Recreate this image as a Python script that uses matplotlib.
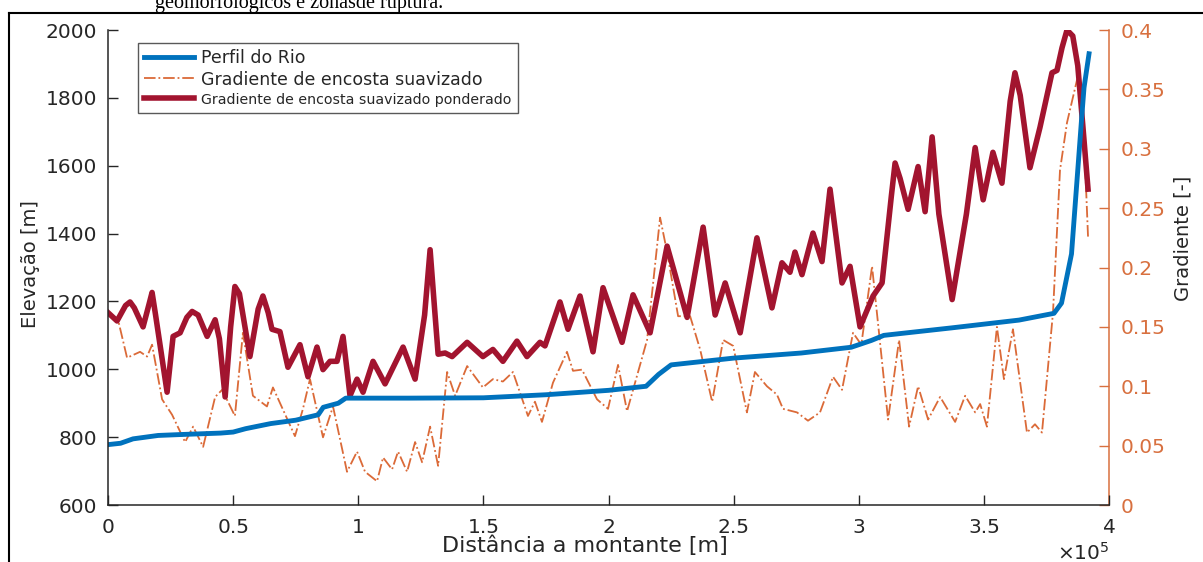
import numpy as np
import matplotlib
matplotlib.use('Agg')
import matplotlib.pyplot as plt
from matplotlib.lines import Line2D
from matplotlib.ticker import FormatStrFormatter

# Perfil do rio (distancia em unidades de 1e5 m, elevacao em m)
dist_rio = [0, 0.05, 0.1, 0.2, 0.3, 0.45, 0.5, 0.55, 0.65, 0.75, 0.84, 0.86, 0.92, 0.95,
            1.2, 1.5, 1.75, 2.0, 2.15, 2.2, 2.25, 2.5, 2.77, 2.97, 3.05, 3.1, 3.37, 3.64,
            3.78, 3.81, 3.85, 3.89, 3.90, 3.92]
elev_rio = [778, 782, 795, 805, 808, 812, 815, 825, 840, 850, 866, 888, 900, 915,
            915, 916, 925, 938, 950, 985, 1013, 1033, 1048, 1065, 1085, 1100, 1122, 1145,
            1165, 1195, 1340, 1735, 1830, 1930]

# Gradiente de encosta suavizado (eixo direito)
dist_grad = [0, 0.040, 0.076, 0.128, 0.156, 0.176, 0.216, 0.256, 0.308, 0.340, 0.380,
             0.428, 0.456, 0.507, 0.539, 0.579, 0.635, 0.659, 0.747, 0.779, 0.807, 0.859,
             0.899, 0.955, 0.995, 1.027, 1.075, 1.099, 1.135, 1.159, 1.195, 1.227, 1.255,
             1.287, 1.319, 1.355, 1.387, 1.435, 1.498, 1.538, 1.578, 1.618, 1.678, 1.706,
             1.734, 1.778, 1.834, 1.858, 1.894, 1.954, 1.998, 2.038, 2.074, 2.154, 2.206,
             2.234, 2.278, 2.326, 2.366, 2.414, 2.458, 2.498, 2.553, 2.585, 2.633, 2.673,
             2.697, 2.753, 2.797, 2.845, 2.897, 2.933, 2.977, 3.010, 3.053, 3.117, 3.161,
             3.201, 3.237, 3.277, 3.325, 3.385, 3.425, 3.465, 3.485, 3.512, 3.552, 3.580,
             3.616, 3.672, 3.704, 3.732, 3.776, 3.804, 3.832, 3.872, 3.896, 3.916]
grad_suav = [0.160, 0.156, 0.124, 0.129, 0.125, 0.135, 0.089, 0.076, 0.053, 0.066, 0.049,
             0.091, 0.097, 0.075, 0.145, 0.092, 0.083, 0.099, 0.058, 0.081, 0.106, 0.057,
             0.083, 0.028, 0.045, 0.028, 0.020, 0.040, 0.030, 0.045, 0.028, 0.053, 0.036,
             0.066, 0.033, 0.112, 0.092, 0.117, 0.099, 0.106, 0.104, 0.112, 0.075, 0.087,
             0.070, 0.103, 0.129, 0.113, 0.114, 0.089, 0.081, 0.118, 0.079, 0.139, 0.242,
             0.213, 0.159, 0.159, 0.131, 0.087, 0.139, 0.134, 0.078, 0.112, 0.100, 0.093,
             0.081, 0.078, 0.071, 0.078, 0.108, 0.097, 0.145, 0.135, 0.201, 0.072, 0.139,
             0.066, 0.100, 0.072, 0.091, 0.070, 0.092, 0.078, 0.085, 0.066, 0.150, 0.106,
             0.148, 0.061, 0.068, 0.061, 0.162, 0.282, 0.322, 0.358, 0.330, 0.226]

# Gradiente de encosta suavizado ponderado (eixo direito)
dist_pond = [0, 0.036, 0.070, 0.088, 0.105, 0.140, 0.165, 0.176, 0.190, 0.236, 0.260,
             0.288, 0.315, 0.336, 0.360, 0.396, 0.428, 0.445, 0.468, 0.490, 0.507, 0.525,
             0.567, 0.600, 0.619, 0.640, 0.655, 0.687, 0.719, 0.767, 0.799, 0.835, 0.859,
             0.887, 0.915, 0.939, 0.967, 0.995, 1.019, 1.059, 1.107, 1.179, 1.227, 1.265,
             1.287, 1.305, 1.319, 1.347, 1.375, 1.435, 1.498, 1.538, 1.578, 1.634, 1.674,
             1.726, 1.746, 1.806, 1.838, 1.886, 1.938, 1.978, 2.054, 2.098, 2.166, 2.234,
             2.314, 2.378, 2.426, 2.466, 2.526, 2.593, 2.653, 2.693, 2.725, 2.745, 2.773,
             2.817, 2.853, 2.885, 2.933, 2.965, 3.005, 3.057, 3.093, 3.130, 3.145, 3.165,
             3.197, 3.237, 3.265, 3.293, 3.320, 3.373, 3.430, 3.465, 3.497, 3.536, 3.572,
             3.605, 3.624, 3.645, 3.684, 3.724, 3.772, 3.792, 3.812, 3.832, 3.855, 3.875,
             3.895, 3.916]
grad_pond = [0.162, 0.155, 0.168, 0.171, 0.166, 0.150, 0.170, 0.179, 0.160, 0.095, 0.142,
             0.145, 0.158, 0.163, 0.160, 0.142, 0.156, 0.140, 0.091, 0.150, 0.184, 0.178,
             0.125, 0.165, 0.176, 0.162, 0.148, 0.146, 0.116, 0.135, 0.108, 0.133, 0.114,
             0.121, 0.121, 0.142, 0.092, 0.106, 0.095, 0.121, 0.102, 0.133, 0.106, 0.160,
             0.215, 0.165, 0.127, 0.128, 0.125, 0.137, 0.125, 0.131, 0.121, 0.138, 0.125,
             0.137, 0.134, 0.171, 0.148, 0.176, 0.129, 0.183, 0.137, 0.177, 0.145, 0.218,
             0.158, 0.234, 0.160, 0.187, 0.145, 0.225, 0.166, 0.204, 0.196, 0.213, 0.194,
             0.229, 0.205, 0.266, 0.187, 0.201, 0.150, 0.176, 0.187, 0.260, 0.288, 0.275,
             0.249, 0.285, 0.247, 0.310, 0.245, 0.173, 0.245, 0.301, 0.257, 0.297, 0.271,
             0.340, 0.364, 0.345, 0.284, 0.318, 0.364, 0.366, 0.385, 0.400, 0.395, 0.370,
             0.320, 0.266]

x_ticks = [0, 0.5, 1, 1.5, 2, 2.5, 3, 3.5, 4]
elev_ticks = [600, 800, 1000, 1200, 1400, 1600, 1800, 2000]
grad_ticks = [0, 0.05, 0.1, 0.15, 0.2, 0.25, 0.3, 0.35, 0.4]

# estilo
blue = '#0072BD'
orange = '#DB6A38'
orange_axis = '#D8703F'
red = '#A2142F'
dark = '#262626'
tick_fontsize = 14.5
label_fontsize = 14

plt.rcParams['font.family'] = 'DejaVu Sans'

fig = plt.figure(figsize=(12.03, 5.62), dpi=100)
ax = fig.add_axes([0.0898, 0.1014, 0.8321, 0.8452])
ax2 = ax.twinx()

l_grad, = ax2.plot(dist_grad, grad_suav, color=orange, linestyle='-.', linewidth=1.3)
l_pond, = ax2.plot(dist_pond, grad_pond, color=red, linewidth=4, solid_joinstyle='round')
l_rio, = ax.plot(dist_rio, elev_rio, color=blue, linewidth=3.5)

# perfil por cima dos gradientes
ax.set_zorder(ax2.get_zorder() + 1)
ax.patch.set_visible(False)

ax.set_xlim(0, 4)
ax.set_ylim(600, 2000)
ax2.set_ylim(0, 0.4)
ax.set_xticks(x_ticks)
ax.set_yticks(elev_ticks)
ax2.set_yticks(grad_ticks)
ax.xaxis.set_major_formatter(FormatStrFormatter('%g'))
ax2.yaxis.set_major_formatter(FormatStrFormatter('%g'))

ax.tick_params(direction='in', length=7, width=1, pad=8, labelsize=tick_fontsize, colors=dark)
ax.tick_params(axis='x', pad=9)
ax2.tick_params(axis='y', direction='in', length=7, width=1, pad=8,
                labelsize=tick_fontsize, colors=orange_axis)

for s in ['top', 'right']:
    ax.spines[s].set_visible(False)
for s in ['top', 'left', 'bottom']:
    ax2.spines[s].set_visible(False)
ax.spines['left'].set_color(dark)
ax.spines['bottom'].set_color(dark)
ax2.spines['right'].set_color(orange_axis)
for s in ax.spines.values():
    s.set_linewidth(1.1)
ax2.spines['right'].set_linewidth(1.1)

ax.set_xlabel('Distância a montante [m]', fontsize=16, color=dark)
ax.xaxis.set_label_coords(0.4765, -0.064)
ax.set_ylabel('Elevação [m]', fontsize=label_fontsize, color=dark)
ax.yaxis.set_label_coords(-0.068, 0.507)
ax2.set_ylabel('Gradiente [-]', fontsize=label_fontsize, color=dark)
ax2.yaxis.set_label_coords(1.064, 0.562)

ax.text(1.0, -0.101, r'$\times10^5$', transform=ax.transAxes, ha='right', va='center',
        fontsize=tick_fontsize, color=dark)

leg = ax.legend([l_rio, l_grad, l_pond],
                ['Perfil do Rio', 'Gradiente de encosta suavizado',
                 'Gradiente de encosta suavizado ponderado'],
                loc='upper left', bbox_to_anchor=(0.030, 0.9726), borderaxespad=0,
                fontsize=12.5, handlelength=2.9, handletextpad=0.4, labelspacing=0.2,
                borderpad=0.35, fancybox=False, framealpha=1, edgecolor='#595959')
leg.get_frame().set_linewidth(1.0)
leg.get_texts()[2].set_fontsize(10.2)
for t in leg.get_texts():
    t.set_color(dark)

# legenda da figura cortada e moldura do documento
fig.text(155 / 1203, 1 - 8 / 562, 'geomorfológicos e zonasde ruptura.',
         family='Liberation Serif', fontsize=14.5, va='baseline', color='black')
fig.add_artist(Line2D([8.5 / 1203, 1], [1 - 12.5 / 562] * 2, transform=fig.transFigure,
                      color='black', linewidth=1.5))
fig.add_artist(Line2D([8.5 / 1203] * 2, [0, 1 - 12.5 / 562], transform=fig.transFigure,
                      color='black', linewidth=1.5))

fig.savefig('out.png', dpi=100, facecolor='white')
